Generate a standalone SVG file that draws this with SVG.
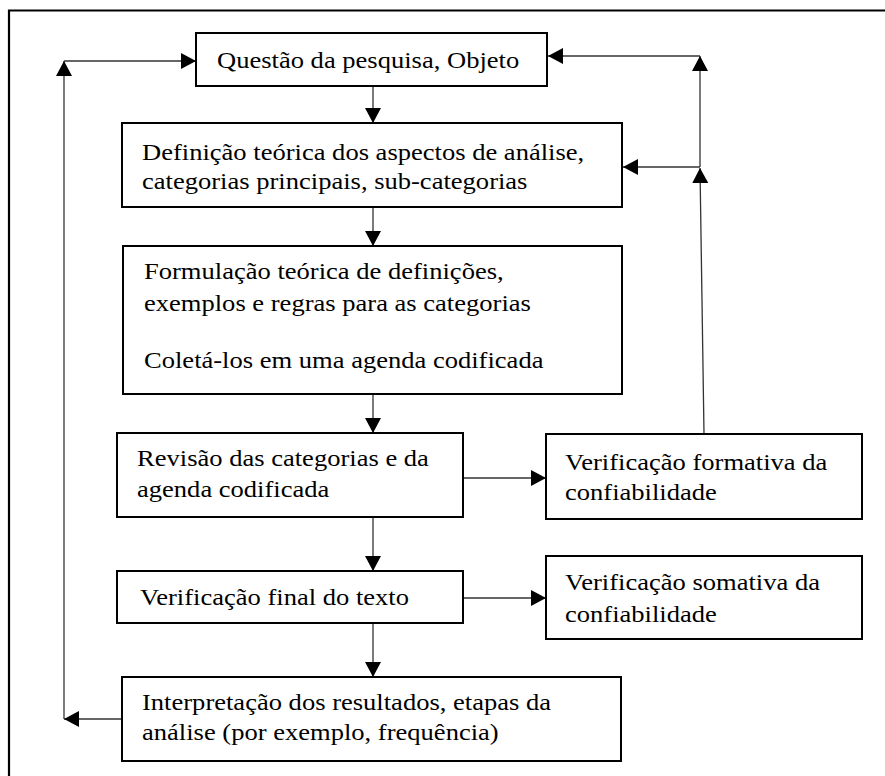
<svg xmlns="http://www.w3.org/2000/svg" width="885" height="776" viewBox="0 0 885 776">
<defs>
<marker id="ah" markerWidth="16" markerHeight="16" viewBox="0 0 16 16" refX="15" refY="8" orient="auto" markerUnits="userSpaceOnUse">
<path d="M0,0 L15,8 L0,16 Z" fill="#000"/>
</marker>
</defs>
<rect width="885" height="776" fill="#fff"/>
<path d="M9,776 V10.5 H885" fill="none" stroke="#000" stroke-width="2.2"/>
<g id="connectors" fill="none" stroke="#333" stroke-width="1.3">
<line x1="373" y1="86" x2="373" y2="123" marker-end="url(#ah)"/>
<line x1="373" y1="207" x2="373" y2="246" marker-end="url(#ah)"/>
<line x1="373" y1="394" x2="373" y2="433" marker-end="url(#ah)"/>
<line x1="373" y1="517" x2="373" y2="571" marker-end="url(#ah)"/>
<line x1="373" y1="623" x2="373" y2="677" marker-end="url(#ah)"/>
<line x1="463" y1="478" x2="546" y2="478" marker-end="url(#ah)"/>
<line x1="463" y1="598" x2="546" y2="598" marker-end="url(#ah)"/>
<line x1="122" y1="719" x2="64" y2="719" marker-end="url(#ah)"/>
<line x1="64" y1="719" x2="64" y2="61" marker-end="url(#ah)"/>
<line x1="64" y1="61" x2="196" y2="61" marker-end="url(#ah)"/>
<line x1="704" y1="434" x2="700" y2="168" marker-end="url(#ah)"/>
<line x1="700" y1="167" x2="623" y2="167" marker-end="url(#ah)"/>
<line x1="700" y1="167" x2="700" y2="56" marker-end="url(#ah)"/>
<line x1="700" y1="56" x2="548" y2="56" marker-end="url(#ah)"/>
</g>
<g id="n1">
<rect x="196" y="33" width="351" height="53" fill="#fff" stroke="#000" stroke-width="2"/>
<text font-family="Liberation Serif" font-size="23.5" transform="translate(217 68) scale(1.13 1)">Questão da pesquisa, Objeto</text>
</g>
<g id="n2">
<rect x="122" y="123" width="500" height="84" fill="#fff" stroke="#000" stroke-width="2"/>
<text font-family="Liberation Serif" font-size="23.5" transform="translate(142 160) scale(1.13 1)">Definição teórica dos aspectos de análise,</text>
<text font-family="Liberation Serif" font-size="23.5" transform="translate(142 189) scale(1.13 1)">categorias principais, sub-categorias</text>
</g>
<g id="n3">
<rect x="123" y="246" width="499" height="148" fill="#fff" stroke="#000" stroke-width="2"/>
<text font-family="Liberation Serif" font-size="23.5" transform="translate(144 279) scale(1.13 1)">Formulação teórica de definições,</text>
<text font-family="Liberation Serif" font-size="23.5" transform="translate(144 311) scale(1.13 1)">exemplos e regras para as categorias</text>
<text font-family="Liberation Serif" font-size="23.5" transform="translate(144 368) scale(1.13 1)">Coletá-los em uma agenda codificada</text>
</g>
<g id="n4">
<rect x="117" y="433" width="346" height="84" fill="#fff" stroke="#000" stroke-width="2"/>
<text font-family="Liberation Serif" font-size="23.5" transform="translate(137 466) scale(1.13 1)">Revisão das categorias e da</text>
<text font-family="Liberation Serif" font-size="23.5" transform="translate(137 497) scale(1.13 1)">agenda codificada</text>
</g>
<g id="n5">
<rect x="546" y="434" width="316" height="85" fill="#fff" stroke="#000" stroke-width="2"/>
<text font-family="Liberation Serif" font-size="23.5" transform="translate(565 470) scale(1.13 1)">Verificação formativa da</text>
<text font-family="Liberation Serif" font-size="23.5" transform="translate(565 500) scale(1.13 1)">confiabilidade</text>
</g>
<g id="n6">
<rect x="117" y="571" width="346" height="52" fill="#fff" stroke="#000" stroke-width="2"/>
<text font-family="Liberation Serif" font-size="23.5" transform="translate(140 605) scale(1.13 1)">Verificação final do texto</text>
</g>
<g id="n7">
<rect x="546" y="556" width="316" height="83" fill="#fff" stroke="#000" stroke-width="2"/>
<text font-family="Liberation Serif" font-size="23.5" transform="translate(565 590) scale(1.13 1)">Verificação somativa da</text>
<text font-family="Liberation Serif" font-size="23.5" transform="translate(565 622) scale(1.13 1)">confiabilidade</text>
</g>
<g id="n8">
<rect x="122" y="677" width="499" height="84" fill="#fff" stroke="#000" stroke-width="2"/>
<text font-family="Liberation Serif" font-size="23.5" transform="translate(142 710) scale(1.13 1)">Interpretação dos resultados, etapas da</text>
<text font-family="Liberation Serif" font-size="23.5" transform="translate(142 740) scale(1.13 1)">análise (por exemplo, frequência)</text>
</g>
</svg>
